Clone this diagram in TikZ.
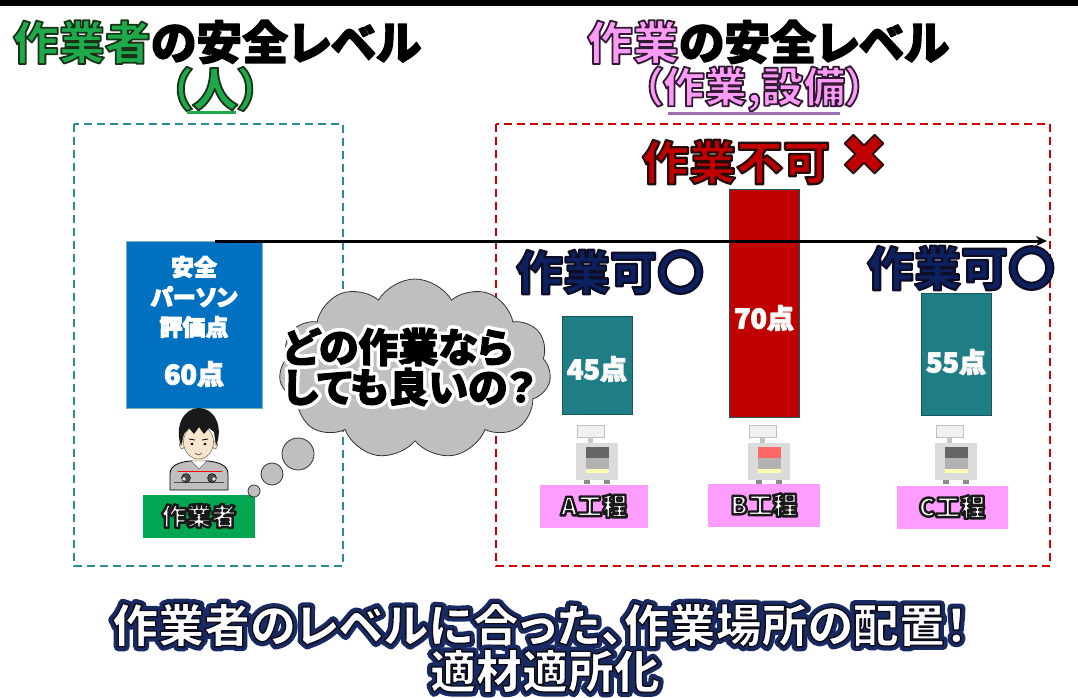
\documentclass[tikz,border=0pt]{standalone}
\usepackage{fontspec}
\usetikzlibrary{shapes.symbols,arrows.meta}
\setmainfont{Noto Sans CJK JP}[RawFeature=+palt]
\newfontfamily\symfont{DejaVu Sans}

\definecolor{titlegreen}{HTML}{1EAA4B}
\definecolor{titlepink}{HTML}{FA9CF5}
\definecolor{titlepurple}{HTML}{9B6FB0}
\definecolor{boxteal}{HTML}{2A8C96}
\definecolor{boxred}{HTML}{D00000}
\definecolor{personblue}{HTML}{0070C0}
\definecolor{barteal}{HTML}{1F7D86}
\definecolor{barred}{HTML}{C00000}
\definecolor{labelgreen}{HTML}{00A651}
\definecolor{labelpink}{HTML}{FF9CFF}
\definecolor{okblue}{HTML}{0D2160}
\definecolor{cloudgray}{HTML}{BFBFBF}
\definecolor{skin}{HTML}{F7E6CB}

% glyphs filled in #1 and stroked with the RGB triple #2 (width #3)
\newcommand\edgedw[4]{{\color{#1}%
  \special{pdf:literal direct q 2 Tr #3 w 1 j 1 J #2 RG}#4%
  \special{pdf:literal direct Q}}}
\newcommand\edged[3]{\edgedw{#1}{#2}{1.8}{#3}}
% glyphs with a wide stroked halo (#2 RGB, width #3) under the fill #1
\newcommand\haloed[4]{%
  \rlap{\special{pdf:literal direct q 1 Tr #3 w 1 j 1 J #2 RG}#4%
        \special{pdf:literal direct Q}}%
  \edgedw{#1}{0.05 0.05 0.1}{1.4}{#4}}
\newcommand\glowed[4]{%
  \rlap{\special{pdf:literal direct q 1 Tr #3 w 1 j 1 J #2 RG}#4%
        \special{pdf:literal direct Q}}%
  \edgedw{#1}{0 0 0}{1}{#4}}

\tikzset{
  titletext/.style={font=\bfseries\fontsize{46}{50}\selectfont, inner sep=0pt},
  verdict/.style={font=\bfseries\fontsize{47}{50}\selectfont, inner sep=0pt},
  areabox/.style={line width=2.2pt, dash pattern=on 8pt off 5pt},
  scorebar/.style={draw=barteal!70!black, line width=0.6pt, inner sep=0pt, minimum width=70pt},
  scoretext/.style={font=\bfseries\fontsize{27}{30}\selectfont, inner sep=0pt},
  tag/.style={inner sep=0pt, minimum height=43pt, font=\bfseries\fontsize{25}{28}\selectfont},
  summarytext/.style={font=\bfseries\fontsize{46}{50}\selectfont, inner sep=0pt},
  pics/machine/.style={code={
    \filldraw[fill=black!6, draw=black!25, line width=0.5pt] (-20,0) rectangle (7,12);
    \fill[black!22] (-9,12) rectangle (-4,18);
    \fill[black!14] (-21,18) rectangle (21,55);
    \fill[#1] (-11,22) rectangle (12,33);
    \fill[black!30] (-11,33) rectangle (12,44);
    \fill[yellow!30] (-11,44) rectangle (12,48);
    \fill[black!45] (-13,55) rectangle (-7,59);
    \fill[black!45] (7,55) rectangle (13,59);
  }}
}

\begin{document}
\begin{tikzpicture}[x=1pt,y=-1pt]
\useasboundingbox (0,0) rectangle (1078,697);
\fill[white] (0,0) rectangle (1078,697);
\fill[black] (0,0) rectangle (1078,6);

% headings
\node[titletext] (workertitle) at (217,42)
  {\edged{titlegreen}{0.1 0.2 0.1}{作業者}\edgedw{black}{0 0 0}{1.2}{の安全レベル}};
\node[titletext] (workersub) at (215,89) {\edged{titlegreen}{0.1 0.2 0.1}{（人）}};
\draw[titlegreen, line width=3pt] (187,112) -- (236,112);
\node[titletext] (tasktitle) at (768,42)
  {\edged{titlepink}{0.2 0.1 0.2}{作業}\edgedw{black}{0 0 0}{1.2}{の安全レベル}};
\node[titletext, font=\bfseries\fontsize{42}{46}\selectfont] (tasksub) at (754,89)
  {\edged{titlepink}{0.2 0.1 0.2}{（作業,設備）}};
\draw[titlepurple, line width=3pt] (668,113) -- (840,113);

% the two areas
\draw[boxteal, areabox] (74,124) rectangle (343,566);
\draw[boxred, areabox] (496,124) rectangle (1050,566);

% worker score
\node[draw=barteal!60, fill=personblue, anchor=north west, inner sep=0pt,
      minimum width=136pt, minimum height=167pt] (workerbox) at (126,241) {};
\node[font=\bfseries\fontsize{23}{30}\selectfont, align=center, inner sep=0pt]
  (workerlabel) at (194,297)
  {\edgedw{white}{1 1 1}{0.9}{安全}\\\edgedw{white}{1 1 1}{0.9}{パーソン}\\\edgedw{white}{1 1 1}{0.9}{評価点}};
\node[scoretext] (workerscore) at (194,374) {\edgedw{white}{0.95 0.95 0.95}{1.2}{60点}};

% worker figure
\filldraw[fill=black!25, draw=black, line width=0.8pt]
  (170,490) -- (170,474) .. controls (170,465) and (180,462) .. (190,461)
  -- (208,461) .. controls (218,462) and (228,465) .. (228,474) -- (228,490) -- cycle;
\fill[skin] (193,453) rectangle (205,462);
\filldraw[fill=white, draw=black!60] (191,461) -- (199,469) -- (207,461) -- cycle;
\draw[red, line width=1pt] (178,471) -- (222,471);
\draw[black!70, line width=0.8pt] (174,482) -- (224,482);
\filldraw[fill=black!70, draw=black] (186,478) circle (4.5);
\filldraw[fill=black!70, draw=black] (212,478) circle (4.5);
\fill[skin] (184,479) circle (1.8);
\fill[skin] (214,479) circle (1.8);
\filldraw[fill=skin, draw=black!60, line width=0.5pt] (182,445) ellipse (2.5 and 4);
\filldraw[fill=skin, draw=black!60, line width=0.5pt] (215,445) ellipse (2.5 and 4);
\filldraw[fill=skin, draw=black!60, line width=0.5pt] (198.5,442) ellipse (15 and 17);
\fill[black!90] (181,446) .. controls (174,426) and (184,408) .. (199,408)
  .. controls (214,408) and (224,426) .. (216,446) -- (214,432) -- (209,428)
  -- (204,434) -- (199,427) -- (194,434) -- (189,428) -- (184,434) -- cycle;
\draw[black, line width=0.8pt] (189,439) -- (195,440);
\draw[black, line width=0.8pt] (202,440) -- (208,439);
\fill[black] (192,444) ellipse (1.7 and 1.2);
\fill[black] (205,444) ellipse (1.7 and 1.2);
\draw[black!70, line width=0.6pt] (195,453) .. controls (198.5,455.5) .. (202,453);

\node[fill=labelgreen, tag, minimum width=112pt] (workertag) at (199,516)
  {\edgedw{white}{0.1 0.1 0.1}{2.4}{作業者}};

% thought bubble
\filldraw[fill=cloudgray, draw=black!80, line width=0.8pt] (254,491) circle (6);
\filldraw[fill=cloudgray, draw=black!80, line width=0.8pt] (272,474) circle (11);
\filldraw[fill=cloudgray, draw=black!80, line width=0.8pt] (298,454) circle (16);
\node[cloud, cloud puffs=11, cloud puff arc=120, fill=cloudgray, draw=black!80,
      line width=0.8pt, minimum width=272pt, minimum height=180pt] (bubble) at (415,369) {};
\node[font=\bfseries\fontsize{40}{40}\selectfont, align=left, anchor=west, inner sep=0pt]
  (question) at (283,367)
  {\glowed{black}{1 1 1}{8}{どの作業なら}\\\glowed{black}{1 1 1}{8}{しても良いの？}};

% task scores
\node[scorebar, fill=barteal, minimum height=98pt] (barA) at (597,365) {};
\node[scorebar, fill=barred, minimum height=228pt] (barB) at (764,303) {};
\node[scorebar, fill=barteal, minimum height=122pt] (barC) at (956,354) {};

% rising scale
\coordinate (scalefrom) at (215,241);
\coordinate (scaleto) at (1047,241);
\draw[line width=3pt, -{Stealth[length=11pt,width=10pt]}] (scalefrom) -- (scaleto);

\node[scoretext] (scoreA) at (597,369) {\edgedw{white}{0.95 0.95 0.95}{1.2}{45点}};
\node[scoretext] (scoreB) at (764,318) {\edgedw{white}{0.95 0.95 0.95}{1.2}{70点}};
\node[scoretext] (scoreC) at (956,362) {\edgedw{white}{0.95 0.95 0.95}{1.2}{55点}};

\node[verdict] (okA) at (610,272) {\edgedw{okblue}{0.05 0.05 0.15}{2.2}{作業可〇}};
\node[verdict] (okC) at (961,268) {\edgedw{okblue}{0.05 0.05 0.15}{2.2}{作業可〇}};
\node[verdict] (ngB) at (736,162) {\edgedw{barred}{0.15 0.05 0.05}{2.2}{作業不可}};
\node[font=\symfont\fontsize{58}{60}\selectfont, inner sep=0pt] (ngmark) at (864,155)
  {\edged{barred}{0.15 0.05 0.05}{✖}};

% machines and process names
\pic at (597,425) {machine=black!60};
\pic at (769,425) {machine=red!60};
\pic at (956,425) {machine=black!60};
\node[fill=labelpink, tag, minimum width=108pt] (procA) at (594,506)
  {\edgedw{white}{0.1 0.1 0.1}{2.4}{A工程}};
\node[fill=labelpink, tag, minimum width=112pt] (procB) at (764,505)
  {\edgedw{white}{0.1 0.1 0.1}{2.4}{B工程}};
\node[fill=labelpink, tag, minimum width=111pt] (procC) at (952,507)
  {\edgedw{white}{0.1 0.1 0.1}{2.4}{C工程}};

% conclusion
\node[summarytext] (summaryA) at (540,625)
  {\haloed{white}{0.1 0.16 0.38}{9}{作業者のレベルに合った、作業場所の配置！}};
\node[summarytext] (summaryB) at (545,671)
  {\haloed{white}{0.1 0.16 0.38}{9}{適材適所化}};
\end{tikzpicture}
\end{document}
